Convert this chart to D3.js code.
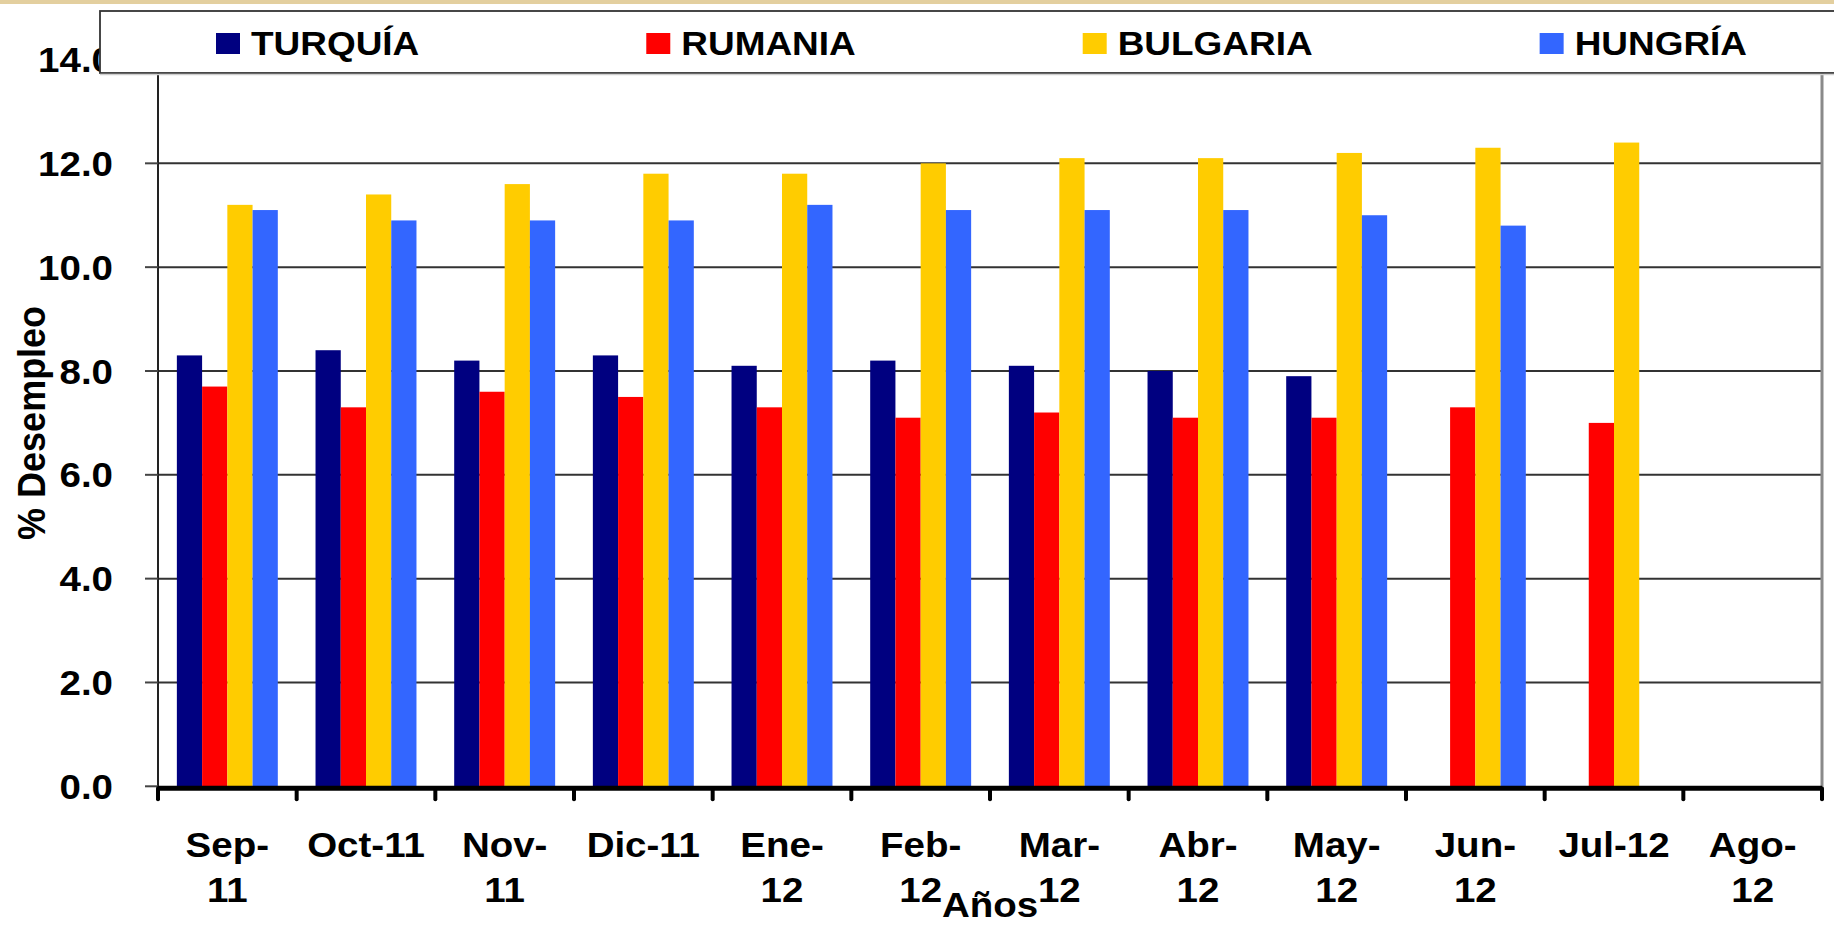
<!DOCTYPE html>
<html>
<head>
<meta charset="utf-8">
<script src="https://cdn.jsdelivr.net/npm/d3@7"></script>
<style>
  html, body { margin: 0; padding: 0; background: #ffffff; }
  svg { display: block; }
  text { font-family: "Liberation Sans", Arial, sans-serif; font-weight: bold; fill: #000; }
</style>
</head>
<body>
<svg id="chart" width="1834" height="929"></svg>
<script>
// ---- data ----
const categories = ["Sep-11","Oct-11","Nov-11","Dic-11","Ene-12","Feb-12","Mar-12","Abr-12","May-12","Jun-12","Jul-12","Ago-12"];
const tickLabels = [["Sep-","11"],["Oct-11"],["Nov-","11"],["Dic-11"],["Ene-","12"],["Feb-","12"],["Mar-","12"],["Abr-","12"],["May-","12"],["Jun-","12"],["Jul-12"],["Ago-","12"]];
const seriesNames = ["TURQUÍA","RUMANIA","BULGARIA","HUNGRÍA"];
const turquia  = [8.3, 8.4, 8.2, 8.3, 8.1, 8.2, 8.1, 8.0, 7.9, null, null, null];
const rumania  = [7.7, 7.3, 7.6, 7.5, 7.3, 7.1, 7.2, 7.1, 7.1, 7.3, 7.0, null];
const bulgaria = [11.2, 11.4, 11.6, 11.8, 11.8, 12.0, 12.1, 12.1, 12.2, 12.3, 12.4, null];
const hungria  = [11.1, 10.9, 10.9, 10.9, 11.2, 11.1, 11.1, 11.1, 11.0, 10.8, null, null];
const seriesColors = ["#000080","#FF0000","#FFCC00","#3366FF"];
const yTicks = [0, 2, 4, 6, 8, 10, 12, 14];
const yTitle = "% Desempleo";
const xTitle = "Años";

const seriesValues = [turquia, rumania, bulgaria, hungria];

(function () {
// ---- layout ----
const W = 1834, H = 929;
const pLeft = 158, pRight = 1822, pTop = 59.5, pBottom = 786.3;
const FS = 35;          // axis font size
const SX = 1.1;         // horizontal stretch of the original picture
const LFS = 33, LSX = 1.12;  // legend font

const svg = d3.select("#chart");

// top decorative strip
svg.append("rect").attr("x", 0).attr("y", 0).attr("width", W).attr("height", 4).attr("fill", "#e3cf9f");

const x0 = d3.scaleBand().domain(categories).range([pLeft, pRight]).paddingInner(0.272).paddingOuter(0.136);
const x1 = d3.scaleBand().domain(seriesNames).range([0, x0.bandwidth()]);
const y = d3.scaleLinear().domain([0, 14]).range([pBottom, pTop]);
const color = d3.scaleOrdinal().domain(seriesNames).range(seriesColors);

// gridlines
svg.append("g").selectAll("line").data(yTicks.filter(d => d > 0)).join("line")
  .attr("x1", pLeft).attr("x2", pRight)
  .attr("y1", d => y(d)).attr("y2", d => y(d))
  .attr("stroke", "#333").attr("stroke-width", 2);

// right border
svg.append("line").attr("x1", pRight).attr("x2", pRight).attr("y1", pTop).attr("y2", pBottom)
  .attr("stroke", "#8a8a8a").attr("stroke-width", 3);

// bars
const flat = [];
categories.forEach((c, i) => {
  seriesNames.forEach((s, j) => {
    const v = seriesValues[j][i];
    if (v != null) flat.push({ c, s, v });
  });
});
svg.append("g").selectAll("rect").data(flat).join("rect")
  .attr("x", d => x0(d.c) + x1(d.s))
  .attr("width", x1.bandwidth())
  .attr("y", d => y(d.v))
  .attr("height", d => y(0) - y(d.v))
  .attr("fill", d => color(d.s));

// y axis line & ticks
svg.append("line").attr("x1", pLeft).attr("x2", pLeft).attr("y1", pTop).attr("y2", pBottom + 2)
  .attr("stroke", "#222").attr("stroke-width", 2);
svg.append("g").selectAll("line").data(yTicks).join("line")
  .attr("x1", pLeft - 13).attr("x2", pLeft)
  .attr("y1", d => y(d)).attr("y2", d => y(d))
  .attr("stroke", "#444").attr("stroke-width", 2);

// y tick labels
const yLab = svg.append("g").selectAll("g").data(yTicks).join("g")
  .attr("transform", d => `translate(113,${y(d)}) scale(${SX},1)`);
yLab.append("text").attr("text-anchor", "end").attr("dy", "0.36em")
  .style("font-size", FS + "px").text(d => d3.format(".1f")(d));

// y title
svg.append("g").attr("transform", `translate(31,${(pTop + pBottom) / 2}) scale(${SX},1) rotate(-90)`)
  .append("text").attr("text-anchor", "middle").attr("dy", "0.36em")
  .style("font-size", "36px").text(yTitle);

// x axis
const step = x0.step();
const boundaries = d3.range(categories.length + 1).map(i => pLeft + i * step);
svg.append("line").attr("x1", pLeft).attr("x2", pRight).attr("y1", pBottom + 2).attr("y2", pBottom + 2)
  .attr("stroke", "#000").attr("stroke-width", 5);
svg.append("g").selectAll("line").data(boundaries).join("line")
  .attr("x1", d => d).attr("x2", d => d)
  .attr("y1", pBottom + 2).attr("y2", pBottom + 13)
  .attr("stroke", "#000").attr("stroke-width", 4).attr("stroke-linecap", "round");

// x tick labels
const xLab = svg.append("g").selectAll("g").data(categories).join("g")
  .attr("transform", d => `translate(${x0(d) + x0.bandwidth() / 2},0) scale(${SX},1)`);
xLab.each(function(d, i) {
  const g = d3.select(this);
  tickLabels[i].forEach((line, k) => {
    g.append("text").attr("text-anchor", "middle").attr("y", 857 + k * 45)
      .style("font-size", FS + "px").text(line);
  });
});

// x title
svg.append("g").attr("transform", `translate(${(pLeft + pRight) / 2},917) scale(${SX},1)`)
  .append("text").attr("text-anchor", "middle").style("font-size", FS + "px").text(xTitle);

// legend
svg.append("rect").attr("x", 100).attr("y", 11).attr("width", 1760).attr("height", 62)
  .attr("fill", "#fff").attr("stroke", "#333").attr("stroke-width", 1.8);
svg.append("line").attr("x1", 100).attr("x2", W).attr("y1", 74.5).attr("y2", 74.5)
  .attr("stroke", "#cfcfcf").attr("stroke-width", 1.5);

let lx = 216;
seriesNames.forEach((s, i) => {
  const g = svg.append("g");
  g.append("rect").attr("x", lx).attr("y", 33).attr("width", 24).attr("height", 21).attr("fill", color(s));
  const tg = g.append("g").attr("transform", `translate(${lx + 35},55) scale(${LSX},1)`);
  const t = tg.append("text").style("font-size", LFS + "px").text(s);
  const w = t.node().getComputedTextLength() * LSX;
  lx = lx + 35 + w + 227;
});
})();
</script>
</body>
</html>
